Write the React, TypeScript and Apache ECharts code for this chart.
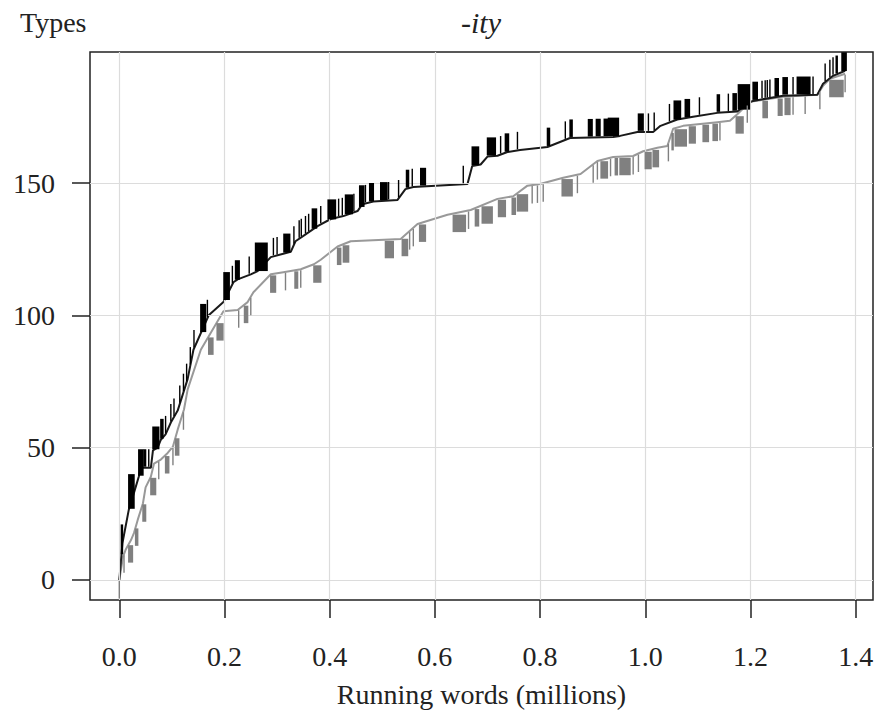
import React, { useEffect, useRef } from "react";
import * as echarts from "echarts";

// Vocabulary growth curves ([running words in millions, types])
const blackCurve: [number, number][] = [
  [0, 0], [0.006, 14], [0.018, 26.5], [0.028, 33], [0.037, 39], [0.041, 42.4], [0.06, 42.4],
  [0.064, 49], [0.073, 50], [0.079, 53], [0.088, 55], [0.098, 59.5], [0.111, 64], [0.13, 76],
  [0.141, 87], [0.17, 100], [0.198, 105], [0.217, 112.5], [0.225, 113.6], [0.25, 115.5],
  [0.263, 116.7], [0.288, 122], [0.326, 124], [0.335, 128], [0.35, 130], [0.377, 133.7],
  [0.402, 136.4], [0.426, 137.5], [0.453, 139.4], [0.462, 142], [0.483, 143], [0.529, 143.6],
  [0.544, 147.7], [0.559, 148.5], [0.662, 149.6], [0.671, 156.4], [0.687, 157], [0.7, 160],
  [0.719, 160.3], [0.738, 161.7], [0.762, 162.5], [0.814, 163.6], [0.857, 167], [0.939, 167.4],
  [0.952, 167.8], [0.985, 169.3], [1.015, 169.3], [1.029, 171.6], [1.061, 174], [1.091, 175],
  [1.137, 176.5], [1.175, 177], [1.194, 180], [1.205, 181], [1.262, 183], [1.327, 183.3],
  [1.338, 187.5], [1.357, 190.5], [1.38, 192.4],
];

const grayCurve: [number, number][] = [
  [0, 0], [0.007, 8.7], [0.012, 11.4], [0.022, 15], [0.028, 17.8], [0.035, 22.7], [0.045, 29],
  [0.05, 35], [0.06, 39], [0.066, 44], [0.079, 45.5], [0.092, 48], [0.102, 50.4], [0.111, 56.8],
  [0.123, 64.4], [0.13, 72], [0.155, 87], [0.198, 101.5], [0.225, 102], [0.244, 105],
  [0.255, 108.7], [0.288, 115.5], [0.312, 116.3], [0.345, 117.4], [0.37, 119.3], [0.383, 121],
  [0.415, 126], [0.44, 128], [0.535, 128.8], [0.567, 134.5], [0.624, 138], [0.668, 139.8],
  [0.719, 144], [0.749, 145], [0.776, 149], [0.8, 149.6], [0.844, 152], [0.877, 153.4],
  [0.909, 158.3], [0.939, 159.8], [0.977, 160.2], [0.996, 162], [1.023, 163.3], [1.042, 164],
  [1.053, 170.5], [1.072, 171.6], [1.137, 173], [1.161, 173.5], [1.175, 176], [1.199, 180.7],
  [1.262, 182.6], [1.327, 183.3], [1.338, 186.7], [1.351, 189.4], [1.38, 191.3],
];

// Rug ticks: [from, to] positions (millions of running words)
const blackTicks: [number, number][] = [
  [0.004, 0.006], [0.018, 0.028], [0.037, 0.045], [0.047, 0.05], [0.056, 0.056], [0.064, 0.075],
  [0.079, 0.083], [0.088, 0.088], [0.098, 0.098], [0.104, 0.104], [0.115, 0.115], [0.122, 0.122],
  [0.128, 0.128], [0.135, 0.135], [0.142, 0.142], [0.155, 0.164], [0.1675, 0.1675], [0.199, 0.209],
  [0.215, 0.215], [0.221, 0.228], [0.247, 0.247], [0.259, 0.281], [0.293, 0.293], [0.3, 0.3],
  [0.313, 0.324], [0.332, 0.332], [0.342, 0.342], [0.346, 0.346], [0.354, 0.354], [0.36, 0.36],
  [0.367, 0.375], [0.383, 0.383], [0.397, 0.411], [0.417, 0.417], [0.424, 0.424], [0.43, 0.443],
  [0.446, 0.446], [0.457, 0.465], [0.468, 0.468], [0.476, 0.483], [0.497, 0.509], [0.512, 0.512],
  [0.531, 0.531], [0.546, 0.55], [0.557, 0.557], [0.573, 0.582], [0.654, 0.654], [0.671, 0.683],
  [0.7, 0.715], [0.725, 0.725], [0.734, 0.74], [0.757, 0.757], [0.814, 0.818], [0.848, 0.848],
  [0.857, 0.861], [0.892, 0.899], [0.907, 0.914], [0.922, 0.928], [0.93, 0.949], [0.987, 0.996],
  [1.006, 1.006], [1.017, 1.017], [1.046, 1.046], [1.055, 1.067], [1.076, 1.084], [1.103, 1.103],
  [1.137, 1.141], [1.158, 1.158], [1.167, 1.173], [1.177, 1.198], [1.205, 1.213], [1.222, 1.222],
  [1.228, 1.228], [1.232, 1.232], [1.237, 1.237], [1.247, 1.253], [1.262, 1.27], [1.281, 1.281],
  [1.289, 1.313], [1.319, 1.319], [1.342, 1.342], [1.351, 1.351], [1.357, 1.357], [1.363, 1.365],
  [1.374, 1.382],
];

const grayTicks: [number, number][] = [
  [0, 0], [0.009, 0.009], [0.018, 0.025], [0.031, 0.035], [0.045, 0.05], [0.06, 0.069],
  [0.075, 0.075], [0.088, 0.094], [0.102, 0.102], [0.107, 0.113], [0.122, 0.122], [0.17, 0.178],
  [0.186, 0.197], [0.227, 0.227], [0.238, 0.244], [0.25, 0.25], [0.288, 0.297], [0.316, 0.316],
  [0.334, 0.339], [0.345, 0.345], [0.37, 0.383], [0.415, 0.421], [0.426, 0.436], [0.506, 0.521],
  [0.538, 0.548], [0.552, 0.552], [0.559, 0.559], [0.571, 0.582], [0.635, 0.658], [0.664, 0.664],
  [0.677, 0.683], [0.69, 0.709], [0.721, 0.734], [0.747, 0.753], [0.757, 0.776], [0.785, 0.785],
  [0.795, 0.795], [0.806, 0.806], [0.842, 0.861], [0.871, 0.871], [0.901, 0.901], [0.909, 0.909],
  [0.916, 0.928], [0.934, 0.934], [0.943, 0.947], [0.952, 0.971], [0.977, 0.977], [0.987, 0.987],
  [1.0, 1.011], [1.015, 1.025], [1.044, 1.044], [1.051, 1.053], [1.057, 1.078], [1.084, 1.095],
  [1.11, 1.12], [1.129, 1.137], [1.142, 1.142], [1.173, 1.186], [1.194, 1.194], [1.224, 1.232],
  [1.253, 1.26], [1.266, 1.275], [1.281, 1.281], [1.304, 1.304], [1.332, 1.332], [1.351, 1.376],
  [1.38, 1.38],
];

const xTickValues = [0, 0.2, 0.4, 0.6, 0.8, 1.0, 1.2, 1.4];
const yTickValues = [0, 50, 100, 150];

const TICK_LEN = 7;
const FONT = "'Liberation Serif', 'Times New Roman', serif";

function lineAt(curve: [number, number][], x: number): number {
  if (x <= curve[0][0]) return curve[0][1];
  for (let i = 1; i < curve.length; i++) {
    const [x1, y1] = curve[i];
    const [x0, y0] = curve[i - 1];
    if (x <= x1) return y0 + ((y1 - y0) * (x - x0)) / (x1 - x0 || 1);
  }
  return curve[curve.length - 1][1];
}

export default function App() {
  const ref = useRef<HTMLDivElement>(null);
  useEffect(() => {
    if (!ref.current) return;
    const chart = echarts.init(ref.current, null, { renderer: "svg" });

    const blackRug = blackTicks.map(([a, b]) => [a, b, lineAt(blackCurve, a) + 0.4, lineAt(blackCurve, b) + TICK_LEN]);
    const grayRug = grayTicks.map(([a, b]) => [a, b, lineAt(grayCurve, a) - 0.4, lineAt(grayCurve, a) - TICK_LEN]);

    const rugRender = (color: string) => (params: any, api: any) => {
      const p0 = api.coord([api.value(0), api.value(2)]);
      const p1 = api.coord([api.value(1), api.value(3)]);
      const left = Math.min(p0[0], p1[0]) - 0.7;
      const w = Math.abs(p1[0] - p0[0]) + 1.4;
      const top = Math.min(p0[1], p1[1]);
      const h = Math.abs(p1[1] - p0[1]);
      return { type: "rect", shape: { x: left, y: top, width: w, height: h }, style: { fill: color } };
    };

    chart.setOption({
      animation: false,
      grid: {
        left: 90, right: 6, top: 52, bottom: 118,
        show: true, borderColor: "#222", borderWidth: 1.5, backgroundColor: "#fff",
      },
      xAxis: {
        type: "value", min: -0.0557, max: 1.433,
        name: "Running words (millions)", nameLocation: "middle", nameGap: 80,
        nameTextStyle: { fontFamily: FONT, fontSize: 28, color: "#222" },
        axisLine: { show: false, onZero: false },
        splitLine: { show: false },
        axisTick: { show: true, customValues: xTickValues, length: 18, inside: false, lineStyle: { color: "#222", width: 1.5 } },
        axisLabel: {
          customValues: xTickValues, margin: 42, fontFamily: FONT, fontSize: 28, color: "#222",
          formatter: (v: number) => v.toFixed(1),
        },
      },
      yAxis: {
        type: "value", min: -7.56, max: 199.5,
        axisLine: { show: false, onZero: false },
        splitLine: { show: false },
        axisTick: { show: true, customValues: yTickValues, length: 18, inside: false, lineStyle: { color: "#222", width: 1.5 } },
        axisLabel: {
          customValues: yTickValues, margin: 35, fontFamily: FONT, fontSize: 28, color: "#222",
          formatter: (v: number) => String(Math.round(v)),
        },
      },
      graphic: [
        { type: "text", x: 20, y: 22, style: { text: "Types", font: `28px ${FONT}`, fill: "#222", textVerticalAlign: "middle" } },
        { type: "text", x: 481, y: 22, style: { text: "-ity", font: `italic 30px ${FONT}`, fill: "#222", textAlign: "center", textVerticalAlign: "middle" } },
      ],
      series: [
        {
          type: "line", data: [], z: 1, silent: true,
          markLine: {
            silent: true, symbol: "none", label: { show: false },
            lineStyle: { color: "#dcdcdc", width: 1.2, type: "solid" },
            data: [...xTickValues.map((v) => ({ xAxis: v })), ...yTickValues.map((v) => ({ yAxis: v }))],
          },
        },
        {
          type: "line", data: grayCurve, z: 3, symbol: "none", silent: true,
          lineStyle: { color: "#999", width: 2 },
        },
        {
          type: "line", data: blackCurve, z: 4, symbol: "none", silent: true,
          lineStyle: { color: "#1a1a1a", width: 2 },
        },
        {
          type: "custom", data: blackRug, z: 5, silent: true, encode: { x: [0, 1], y: [2, 3] },
          renderItem: rugRender("#000"),
        },
        {
          type: "custom", data: grayRug, z: 5, silent: true, encode: { x: [0, 1], y: [2, 3] },
          renderItem: rugRender("#808080"),
        },
      ],
    });
    return () => chart.dispose();
  }, []);
  return <div ref={ref} style={{ position: "absolute", left: 0, top: 0, width: 879, height: 718 }} />;
}
